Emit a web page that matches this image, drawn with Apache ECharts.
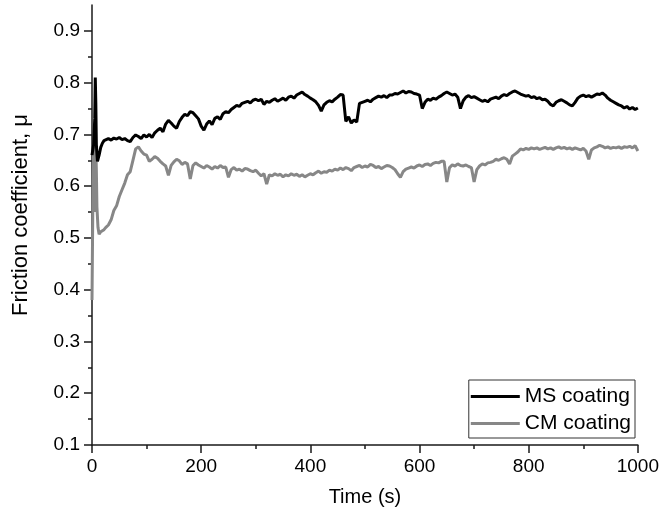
<!DOCTYPE html>
<html><head><meta charset="utf-8">
<script src="https://cdn.jsdelivr.net/npm/echarts@6/dist/echarts.min.js"></script>
<style>html,body{margin:0;padding:0;background:#fff}#c{width:662px;height:513px}</style>
</head><body><div id="c"></div>
<script>
// ---- data ----
const seriesNames = ['MS coating', 'CM coating'];
const xTicks = [0, 200, 400, 600, 800, 1000];
const yTicks = [0.1, 0.2, 0.3, 0.4, 0.5, 0.6, 0.7, 0.8, 0.9];
const yMinorTicks = [0.15, 0.25, 0.35, 0.45, 0.55, 0.65, 0.75, 0.85];

const msEarlyTime = [0, 3, 5, 6, 7, 8, 10, 13, 16, 19, 22];
const msEarlyValue = [0.66, 0.68, 0.73, 0.81, 0.76, 0.68, 0.648, 0.66, 0.675, 0.683, 0.688];
const cmEarlyTime = [0, 1, 2, 3, 4, 5, 6, 7, 8, 9, 11, 13, 16, 19, 22];
const cmEarlyValue = [0.38, 0.50, 0.62, 0.676, 0.60, 0.55, 0.64, 0.676, 0.63, 0.56, 0.52, 0.507, 0.512, 0.510, 0.516];

const time = [25,30,35,40,45,50,55,60,65,70,75,80,85,90,95,100,105,110,115,120,
125,130,135,140,145,150,155,160,165,170,175,180,185,190,195,200,205,210,215,220,
225,230,235,240,245,250,255,260,265,270,275,280,285,290,295,300,305,310,315,320,
325,330,335,340,345,350,355,360,365,370,375,380,385,390,395,400,405,410,415,420,
425,430,435,440,445,450,455,460,465,470,475,480,485,490,495,500,505,510,515,520,
525,530,535,540,545,550,555,560,565,570,575,580,585,590,595,600,605,610,615,620,
625,630,635,640,645,650,655,660,665,670,675,680,685,690,695,700,705,710,715,720,
725,730,735,740,745,750,755,760,765,770,775,780,785,790,795,800,805,810,815,820,
825,830,835,840,845,850,855,860,865,870,875,880,885,890,895,900,905,910,915,920,
925,930,935,940,945,950,955,960,965,970,975,980,985,990,995,1000];

const msValue = [0.690,0.692,0.689,0.693,0.691,0.694,0.690,0.692,0.688,0.686,
0.694,0.699,0.696,0.692,0.699,0.695,0.700,0.694,0.703,0.708,
0.712,0.705,0.720,0.727,0.722,0.716,0.712,0.725,0.733,0.739,
0.736,0.744,0.742,0.736,0.730,0.716,0.708,0.720,0.726,0.719,
0.731,0.734,0.729,0.740,0.744,0.742,0.748,0.752,0.756,0.754,
0.760,0.762,0.764,0.761,0.766,0.768,0.765,0.768,0.758,0.764,
0.762,0.766,0.769,0.764,0.767,0.770,0.766,0.772,0.774,0.770,
0.776,0.779,0.782,0.777,0.774,0.770,0.767,0.763,0.756,0.745,
0.757,0.762,0.765,0.763,0.768,0.772,0.777,0.776,0.725,0.734,
0.722,0.728,0.724,0.760,0.762,0.764,0.766,0.763,0.768,0.771,
0.774,0.772,0.775,0.771,0.776,0.776,0.779,0.778,0.781,0.784,
0.780,0.783,0.782,0.779,0.778,0.776,0.750,0.762,0.768,0.766,
0.770,0.768,0.772,0.775,0.779,0.782,0.779,0.776,0.778,0.772,
0.750,0.765,0.772,0.775,0.771,0.773,0.770,0.767,0.764,0.766,
0.763,0.768,0.770,0.772,0.769,0.774,0.777,0.775,0.779,0.782,
0.784,0.781,0.778,0.776,0.774,0.775,0.771,0.773,0.769,0.771,
0.767,0.768,0.764,0.758,0.755,0.762,0.765,0.767,0.764,0.761,
0.757,0.755,0.762,0.770,0.774,0.776,0.773,0.775,0.772,0.775,
0.778,0.777,0.780,0.776,0.770,0.766,0.763,0.760,0.757,0.755,
0.751,0.754,0.749,0.752,0.748,0.751];

const cmValue = [0.520,0.525,0.535,0.553,0.562,0.580,0.593,0.606,0.622,0.628,
0.650,0.672,0.676,0.668,0.662,0.660,0.648,0.652,0.657,0.654,
0.648,0.643,0.639,0.621,0.640,0.647,0.652,0.649,0.642,0.646,
0.643,0.614,0.640,0.645,0.641,0.638,0.635,0.640,0.637,0.633,
0.638,0.635,0.640,0.636,0.637,0.617,0.632,0.636,0.631,0.633,
0.629,0.634,0.633,0.630,0.628,0.631,0.625,0.620,0.624,0.604,
0.622,0.620,0.624,0.621,0.623,0.618,0.622,0.620,0.624,0.621,
0.623,0.619,0.622,0.618,0.621,0.624,0.622,0.626,0.629,0.625,
0.628,0.627,0.631,0.629,0.633,0.631,0.635,0.632,0.636,0.634,
0.630,0.636,0.638,0.640,0.636,0.639,0.637,0.642,0.640,0.636,
0.638,0.634,0.637,0.640,0.639,0.636,0.632,0.624,0.617,0.628,
0.633,0.635,0.637,0.635,0.639,0.641,0.638,0.642,0.643,0.640,
0.644,0.646,0.645,0.648,0.648,0.608,0.636,0.641,0.639,0.643,
0.640,0.639,0.641,0.638,0.636,0.608,0.632,0.639,0.643,0.641,
0.645,0.646,0.648,0.652,0.650,0.653,0.655,0.652,0.643,0.658,
0.662,0.666,0.672,0.670,0.673,0.671,0.674,0.672,0.674,0.671,
0.673,0.675,0.672,0.674,0.671,0.674,0.676,0.673,0.675,0.672,
0.674,0.671,0.674,0.672,0.670,0.673,0.668,0.652,0.670,0.674,
0.676,0.679,0.677,0.674,0.676,0.673,0.675,0.674,0.676,0.673,
0.676,0.675,0.677,0.674,0.678,0.668];

// ---- build ----
function pairs(t, v) { return t.map((x, i) => [x, v[i]]); }
const msData = pairs(msEarlyTime, msEarlyValue).concat(pairs(time, msValue));
const cmData = pairs(cmEarlyTime, cmEarlyValue).concat(pairs(time, cmValue));

const FONT = '"Liberation Sans", Arial, Helvetica, sans-serif';
const AX = '#1a1a1a';
const GRAY = '#878787';

const chart = echarts.init(document.getElementById('c'), null, {renderer: 'canvas'});
chart.setOption({
  animation: false,
  backgroundColor: '#fff',
  textStyle: {fontFamily: FONT},
  grid: {left: 92, right: 24, top: 5, bottom: 68, containLabel: false},
  legend: {
    data: seriesNames,
    orient: 'vertical',
    right: 27, top: 380,
    icon: 'rect',
    itemWidth: 49, itemHeight: 3, itemGap: 4,
    padding: [5, 4, 3, 2],
    borderColor: '#333', borderWidth: 1, borderRadius: 0,
    textStyle: {fontSize: 21, lineHeight: 23, color: '#000', fontFamily: FONT}
  },
  xAxis: {
    type: 'value', min: 0, max: 1000, interval: 200,
    name: 'Time (s)', nameLocation: 'middle', nameGap: 42,
    nameTextStyle: {fontSize: 20, color: '#000', fontFamily: FONT},
    axisLine: {show: true, onZero: false, lineStyle: {color: AX, width: 1.5}},
    axisTick: {show: true, inside: false, length: 8, lineStyle: {color: AX, width: 1.5}, customValues: xTicks},
    minorTick: {show: true, splitNumber: 2, length: 4, lineStyle: {color: AX, width: 1.5}},
    axisLabel: {fontSize: 19, color: '#000', margin: 12, fontFamily: FONT, customValues: xTicks,
      formatter: v => String(v)},
    splitLine: {show: false}, minorSplitLine: {show: false}
  },
  yAxis: [{
    type: 'value', min: 0.1, max: 0.95,
    name: 'Friction coefficient, μ', nameLocation: 'middle', nameGap: 60,
    nameTextStyle: {fontSize: 22, color: '#000', fontFamily: FONT, padding: [0, 0, 0, 20]},
    axisLine: {show: true, onZero: false, lineStyle: {color: AX, width: 1.5}},
    axisTick: {show: true, length: 8, lineStyle: {color: AX, width: 1.5}, customValues: yTicks},
    axisLabel: {fontSize: 19, color: '#000', margin: 12, fontFamily: FONT, customValues: yTicks,
      formatter: v => v.toFixed(1)},
    splitLine: {show: false}
  }, {
    type: 'value', min: 0.1, max: 0.95, position: 'left', offset: 0,
    axisLine: {show: false},
    axisTick: {show: true, length: 4, lineStyle: {color: AX, width: 1.5}, customValues: yMinorTicks},
    axisLabel: {show: false},
    splitLine: {show: false}
  }],
  series: [
    {name: seriesNames[1], type: 'line', data: cmData, showSymbol: false, symbol: 'none',
     sampling: null, z: 2, lineStyle: {color: GRAY, width: 3}, itemStyle: {color: GRAY}},
    {name: seriesNames[0], type: 'line', data: msData, showSymbol: false, symbol: 'none',
     sampling: null, z: 3, lineStyle: {color: '#000', width: 3}, itemStyle: {color: '#000'}}
  ]
});
</script></body></html>
